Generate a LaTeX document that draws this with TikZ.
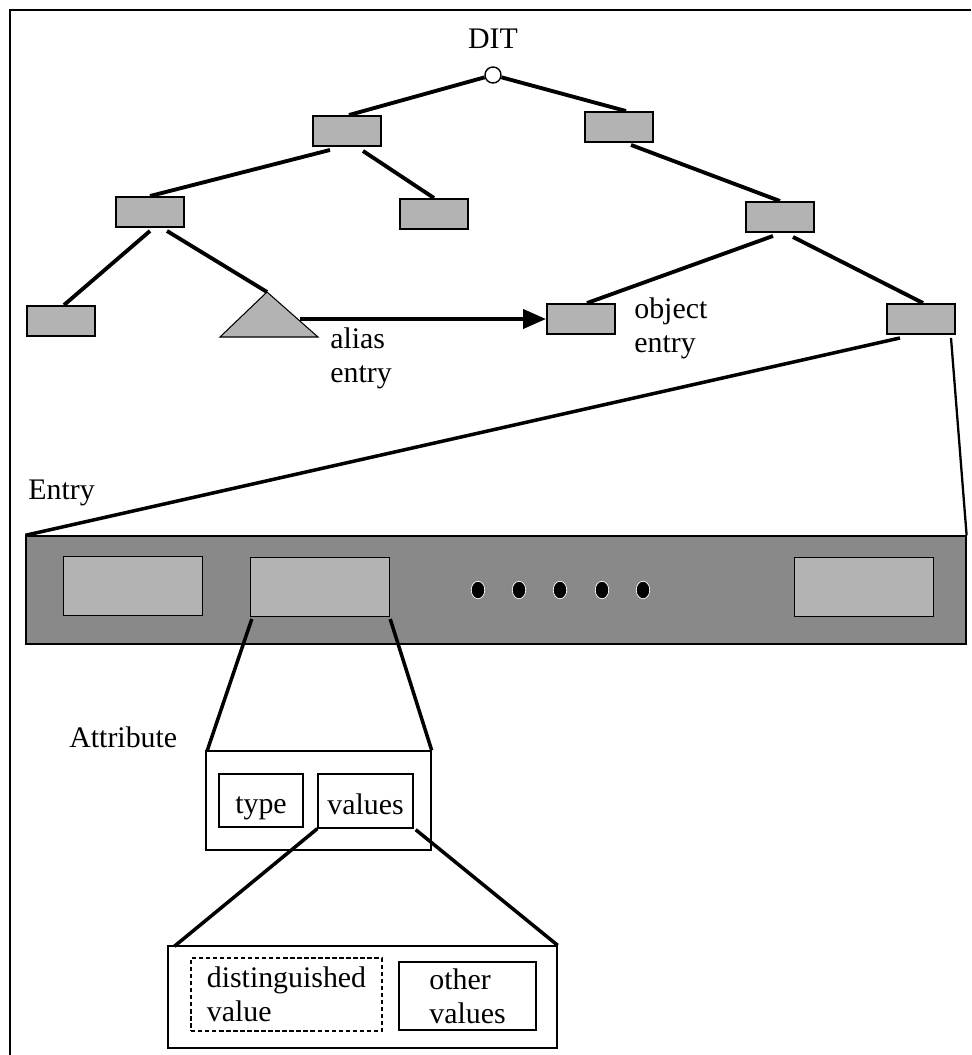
\documentclass[tikz,border=0pt]{standalone}
\usepackage{fontspec}
\setmainfont{Liberation Serif}
\usepackage{tikz}
\usetikzlibrary{arrows.meta}
\usetikzlibrary{calc}
\usetikzlibrary{shapes}

\definecolor{boxgray}{HTML}{B3B3B3}
\definecolor{entrygray}{HTML}{898989}

\begin{document}
\begin{tikzpicture}[x=0.02cm, y=-0.02cm, font=\fontsize{17pt}{19.5pt}\selectfont,
        dit_node_style/.style={rectangle,draw=black,line width=1.1pt,fill=boxgray,inner sep=0pt,minimum width=1.36cm,minimum height=0.6cm},
        slot_style/.style={rectangle,draw=black,thick,fill=boxgray,inner sep=0pt,minimum width=2.78cm,minimum height=1.17cm},
        dot_style/.style={ellipse,draw=white,thin,fill=black,inner sep=0pt,minimum width=0.27cm,minimum height=0.35cm},
        part_style/.style={rectangle,draw=black,thick,inner sep=2pt,align=left},
        label_style/.style={inner sep=0pt,align=left,anchor=north west},
        edge_style/.style={draw=black, line width=2.2pt},
        zoom_style/.style={draw=black, line width=2pt}]

        \useasboundingbox (0,0) rectangle (971,1055);
        \draw [line width=0.6pt] (10,1055) -- (10,10) -- (971,10);

        % the tree
        \node [circle,draw=black,thick,fill=white,inner sep=0pt,minimum size=0.32cm] (root) at (493,75) {};
        \node [anchor=base] (dit) at (493,48) {DIT};

        \node [dit_node_style] (n1) at (347,131) {};
        \node [dit_node_style] (n2) at (619,127) {};
        \node [dit_node_style] (n3) at (150,212) {};
        \node [dit_node_style] (n4) at (434,214) {};
        \node [dit_node_style] (n5) at (780,217) {};
        \node [dit_node_style] (n6) at (61,321) {};
        \node [dit_node_style] (n7) at (581,319) {};
        \node [dit_node_style] (n8) at (921,319) {};

        \coordinate (alias) at (267,292);
        \coordinate (alias_side) at (300,319);
        \filldraw [fill=boxgray,draw=black,semithick] (alias) -- (318,337) -- (220,337) -- cycle;

        \node [label_style] (alias_lbl) at (330,327) {alias\\entry};
        \node [label_style] (object_lbl) at (634,297) {object\\entry};

        \draw [edge_style] (root) -- ($(n1.north)+(2,0)$);
        \draw [edge_style] (root) -- ($(n2.north)+(7,0)$);
        \draw [edge_style] ($(n1.south)+(-17,3)$) -- (n3.north);
        \draw [edge_style] ($(n1.south)+(16,4)$) -- (n4.north);
        \draw [edge_style] ($(n2.south)+(12,2)$) -- (n5.north);
        \draw [edge_style] ($(n3.south)+(0,3)$) -- ($(n6.north)+(3,0)$);
        \draw [edge_style] ($(n3.south)+(17,3)$) -- (alias);
        \draw [edge_style] ($(n5.south)+(-7,3)$) -- ($(n7.north)+(6,0)$);
        \draw [edge_style] ($(n5.south)+(13,4)$) -- ($(n8.north)+(2,0)$);
        \draw [edge_style,-{Triangle[length=0.46cm,width=0.38cm]}] (alias_side) -- (n7.west);

        % the entry
        \node [anchor=base west,inner sep=0pt] (entry_lbl) at (28,499) {Entry};
        \node [rectangle,draw=black,thick,fill=entrygray,inner sep=0pt,minimum width=18.8cm,minimum height=2.16cm] (entry) at (496,590) {};

        \node [slot_style] (slot1) at (133,586) {};
        \node [slot_style] (slot2) at (320,587) {};
        \node [slot_style] (slot3) at (864,587) {};

        \node [dot_style] (dot1) at (478,590) {};
        \node [dot_style] (dot2) at (519,590) {};
        \node [dot_style] (dot3) at (560,590) {};
        \node [dot_style] (dot4) at (602,590) {};
        \node [dot_style] (dot5) at (643,590) {};

        \draw [zoom_style] ($(n8.south)+(-21,3)$) -- (entry.north west);
        \draw [zoom_style,line width=1.3pt] ($(n8.south)+(30,3)$) -- (entry.north east);

        % the attribute
        \node [anchor=base west,inner sep=0pt] (attr_lbl) at (69,747) {Attribute};
        \node [rectangle,draw=black,thick,inner sep=0pt,minimum width=4.5cm,minimum height=1.98cm] (attr) at (318.5,800.5) {};
        \node [part_style,text height=15pt,text depth=0pt,minimum width=1.68cm,minimum height=1.06cm] (type) at (261,800.5) {type};
        \node [part_style,text height=15pt,text depth=0pt,minimum width=1.9cm,minimum height=1.08cm] (values) at (365.5,801) {values};

        \draw [zoom_style] ($(slot2.south west)+(2,2)$) -- ($(attr.north west)+(2,0)$);
        \draw [zoom_style] ($(slot2.south east)+(0,2)$) -- (attr.north east);

        % the values
        \node [rectangle,draw=black,thick,inner sep=0pt,minimum width=7.78cm,minimum height=2.04cm] (valbox) at (362.5,997) {};
        \node [part_style,dash pattern=on 2.5pt off 1.5pt,minimum width=3.82cm,minimum height=1.46cm] (distval) at (286.5,994.5) {distinguished\\value};
        \node [part_style,minimum width=2.74cm,minimum height=1.36cm] (otherval) at (467.5,996) {other\\values};

        \draw [zoom_style] (values.south west) -- ($(valbox.north west)+(7,1)$);
        \draw [zoom_style] ($(values.south east)+(2,1)$) -- (valbox.north east);

        \end{tikzpicture}
\end{document}
